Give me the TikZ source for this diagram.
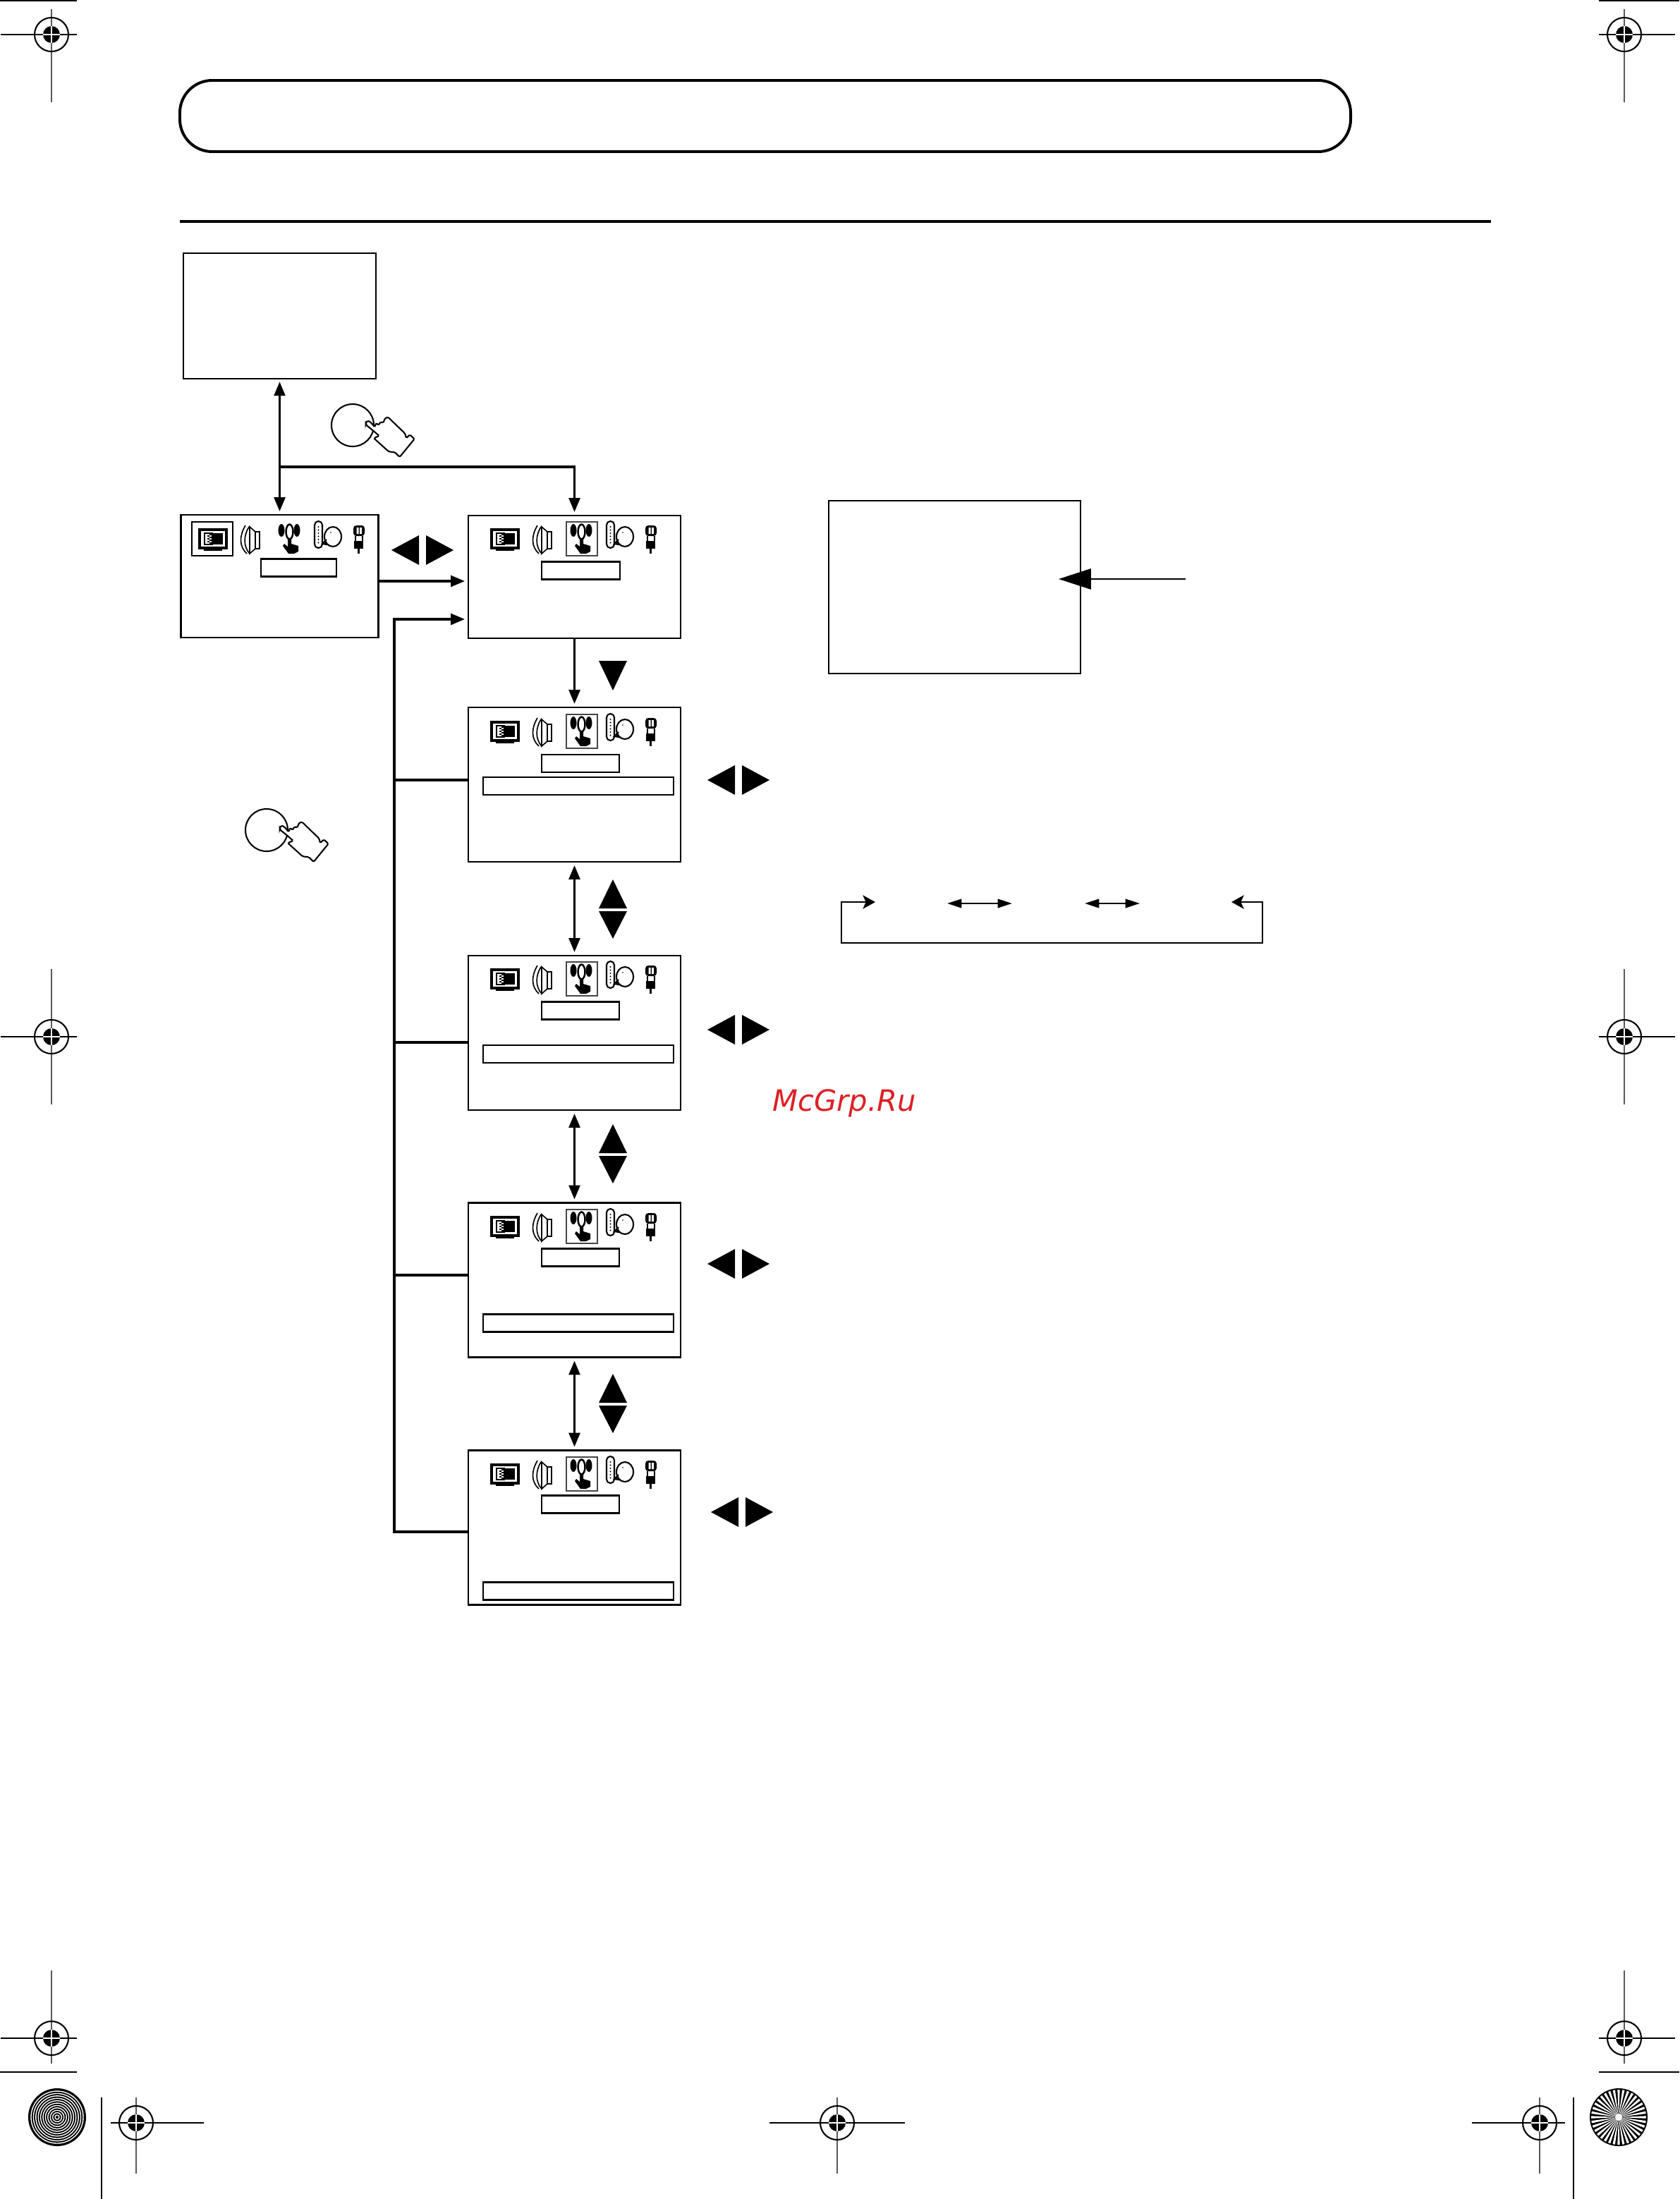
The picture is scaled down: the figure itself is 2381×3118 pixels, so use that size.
\documentclass[tikz,border=0pt]{standalone}
\usepackage{fontspec}
\usetikzlibrary{arrows.meta,positioning}
\newfontfamily\markfont{DejaVu Sans}
\definecolor{markred}{RGB}{222,32,38}
\definecolor{framegray}{RGB}{70,70,70}

% registration cross: x, y, left, right, top, bottom
\newcommand{\regmark}[6]{
  \draw[line width=0.5pt] (#3,#2) -- (#4,#2);
  \draw[line width=0.5pt,black!65] (#1,#5) -- (#1,#6);
  \draw[line width=0.5pt] (#1,#2) circle[radius=24];
  \fill (#1,#2) circle[radius=12];
  \draw[white,line width=0.3pt] (#1-12,#2) -- (#1+12,#2) (#1,#2-12) -- (#1,#2+12);
}

\tikzset{
  screen node/.style={rectangle,draw,inner sep=0pt,line width=0.7pt,minimum width=72.24pt,minimum height=#1},
  screen node/.default=52.56pt,
  field node/.style={rectangle,draw,inner sep=0pt,line width=0.55pt,minimum width=#1,minimum height=6pt},
  flow/.style={line width=0.95pt,shorten >=0.8pt,shorten <=0.8pt},
  wire/.style={line width=0.95pt},
  icon frame/.style={line width=0.55pt,draw=framegray},
  pics/iconrow/.style={code={
    % set-up screen
    \draw[line width=0.8pt,fill=white] (32,21) rectangle (70,47);
    \fill (50,26) rectangle (65,42);
    \draw[line width=0.35pt] (39,26) rectangle (50,42);
    \foreach \yy in {27,31,...,39} {\fill (46,\yy) rectangle (50,\yy+2);}
    \foreach \yy in {29,33,...,41} {\fill (43,\yy) rectangle (46,\yy+2);}
    \fill (38,47) rectangle (64,51);
    % speaker
    \draw[line width=0.4pt,fill=white] (111,24) rectangle (117,48);
    \draw[line width=0.4pt] (111,24) -- (103,17) -- (103,55) -- (111,48);
    \draw[line width=0.4pt] (97,15) .. controls (88,30) and (88,45) .. (99,55);
    \draw[line width=0.4pt] (102,17) .. controls (94,30) and (94,45) .. (103,55);
    % function hand
    \fill (148,22) circle[x radius=4.5,y radius=9];
    \fill (170,22) circle[x radius=4.5,y radius=9];
    \draw[line width=0.6pt] (159.5,24) circle[x radius=5,y radius=10.5];
    \fill (157,34) -- (162,34) -- (162,41) -- (172,44) -- (172,52) -- (166,55)
      -- (158,55) -- (150,44) -- (152,41) -- (157,45) -- cycle;
    % speech
    \draw[line width=0.5pt,rounded corners=1.3pt] (195,9) rectangle (206,47);
    \foreach \yy in {17,21.5,...,40} {\fill (200.5,\yy) circle[radius=1.1];}
    \draw[line width=0.5pt] (221,31) circle[x radius=12,y radius=14];
    \fill (218,25) circle[radius=0.8];
    \draw[line width=0.5pt,fill=white] (206,41) -- (212,42) -- (209,38) -- (212,35) -- cycle;
    % plug
    \fill[rounded corners=1pt] (250,15) rectangle (266,30);
    \fill[white] (254.5,18) rectangle (257.5,27) (259,18) rectangle (262,27);
    \draw[line width=0.4pt] (253,30) -- (253,37) (263,30) -- (263,37);
    \fill (251,37) rectangle (264,48);
    \draw[line width=0.6pt] (257.5,48) -- (257.5,55);
  }},
  pics/lrkeys/.style={code={
    \fill (-44,0) -- (-5,-21) -- (-5,21) -- cycle;
    \fill (44,0) -- (5,-21) -- (5,21) -- cycle;
  }},
  pics/udkeys/.style={code={
    \fill (0,-43) -- (-20,-2) -- (20,-2) -- cycle;
    \fill (0,41) -- (-20,2) -- (20,2) -- cycle;
  }},
  pics/pushbutton/.style={code={
    \draw[line width=0.5pt] (0,0) circle[radius=30];
    \draw[line width=0.5pt,fill=white,rounded corners=0.4pt] (18.7,-3.3) -- (21.3,-6.7) -- (26,-4)
      -- (31.3,2.7) -- (33.3,-3.3) -- (37,0) -- (39.3,-5) -- (43.3,-3.3) -- (46,-10)
      -- (50,-11.7) -- (74.3,11.7) -- (76,18.3) -- (81,13.3) -- (87.7,19.3) -- (66.7,45)
      -- (60,38.3) -- (51,37.3) -- (46,32.7) -- (30,18.3) -- (37.7,15) -- (26,5)
      -- (18.7,-0.7) -- cycle;
  }}
}

\begin{document}
\begin{tikzpicture}[x=0.24pt,y=-0.24pt,
  >={Triangle[length=4.8pt,width=3.7pt]}]
  \useasboundingbox (0,0) rectangle (2381,3118);

  % printer marks
  \regmark{73}{49}{1}{109}{13}{145}
  \regmark{2303}{49}{2267}{2375}{13}{145}
  \regmark{73}{1470}{1}{109}{1374}{1566}
  \regmark{2303}{1470}{2267}{2375}{1374}{1566}
  \regmark{73}{2890}{1}{109}{2794}{2926}
  \regmark{2303}{2890}{2267}{2375}{2794}{2926}
  \regmark{193}{3010}{157}{289}{2974}{3082}
  \regmark{1187}{3010}{1091}{1283}{2974}{3082}
  \regmark{2183}{3010}{2087}{2219}{2974}{3082}
  \draw[line width=0.5pt] (0,1) -- (109,1) (2267,1) -- (2381,1);
  \draw[line width=0.5pt] (0,2938) -- (109,2938) (2267,2938) -- (2381,2938);
  \draw[line width=0.5pt] (144,2974) -- (144,3118) (2231,2974) -- (2231,3118);

  % colour bars
  \fill (81,3002) circle[radius=41];
  \foreach \r in {3,6.4,...,40} {\draw[white,line width=0.33pt] (81,3002) circle[radius=\r];}
  \fill (2295,3002) circle[radius=41];
  \foreach \a in {0,10,...,350} {\fill[white] (2295,3002) -- ++(\a-2.5:39) -- ++(\a+90:3.4) -- cycle;}
  \fill[white] (2295,3002) circle[radius=5];

  % heading
  \draw[line width=0.95pt,rounded corners=11pt] (255,114) rectangle (1915,215);
  \draw[line width=0.95pt] (255,314) -- (2114,314);

  % screens
  \node[rectangle,draw,inner sep=0pt,line width=0.4pt,minimum width=65.5pt,minimum height=42.7pt] (tvscreen) at (396.5,448) {};
  \node[screen node=41.76pt,minimum width=67pt] (main1) at (396.5,817) {};
  \node[screen node=41.76pt] (main2) at (814.5,818) {};
  \foreach \n/\y in {3/1112.5,4/1464.5,5/1815,6/2166} {
    \node[screen node] (screen\n) at (814.5,\y) {};
  }
  \node[rectangle,draw,inner sep=0pt,line width=0.6pt,minimum width=85.7pt,minimum height=58.8pt] (notebox) at (1353.5,832.5) {};

  % fields
  \node[field node=25.7pt] (title1) at (423.5,805) {};
  \node[field node=26.6pt] (title2) at (823.5,809) {};
  \foreach \n/\y/\z in {3/1082.5/1114.5,4/1433/1494.5,5/1783/1876,6/2133/2256} {
    \node[field node=26.4pt] (title\n) at (823,\y) {};
    \node[field node=64.8pt] (field\n) at (820,\z) {};
  }

  % icons
  \pic at (251,730) {iconrow};
  \draw[line width=0.5pt] (272,740) rectangle (330,788);
  \foreach \y in {730,1003,1354,1705,2056} {
    \pic at (665,\y) {iconrow};
    \draw[icon frame] (803,\y+10) rectangle (847,\y+58);
  }

  % connectors
  \coordinate (branch) at (396.5,662);
  \coordinate (busTop) at (559,878);
  \coordinate (busEnd) at (559,2172);
  \coordinate (across) at (537,824);
  \path[flow,<->] (tvscreen) edge (main1);
  \draw[flow,->,shorten <=0pt] (branch) -| (main2.north);
  \draw[wire,->,shorten >=0.8pt] (main1.east |- across) -- (main2.west |- across);
  \draw[wire,->,shorten >=0.8pt] (screen6.west |- busEnd) -- (busEnd) -- (busTop) -- (main2.west |- busTop);
  \foreach \n/\y in {3/1106,4/1478,5/1808} {
    \draw[wire] (screen\n.west |- 0,\y) -- (busEnd |- 0,\y);
  }
  \path[flow,->,shorten <=0pt] (main2) edge (screen3);
  \path[flow,<->]
   (screen3) edge (screen4)
   (screen4) edge (screen5)
   (screen5) edge (screen6);

  \coordinate (noteEnd) at (1681,821);
  \coordinate (noteTip) at (1501,821);
  \draw[line width=0.6pt,-{Triangle[length=11pt,width=7pt]}] (noteEnd) -- (noteTip);

  % mode cycle
  \coordinate (cycleA) at (1241,1279);
  \coordinate (cycleB) at (1193,1337);
  \coordinate (cycleC) at (1790,1337);
  \coordinate (cycleD) at (1746,1279);
  \draw[line width=0.7pt,{Stealth[length=4.2pt,width=4.6pt,inset=1pt]}-{Stealth[length=4.2pt,width=4.6pt,inset=1pt]}]
    (cycleA) -- (cycleA -| cycleB) -- (cycleB) -- (cycleC) -- (cycleD -| cycleC) -- (cycleD);
  \coordinate (pairA) at (1343,1281);
  \coordinate (pairB) at (1435,1281);
  \coordinate (pairC) at (1538,1281);
  \coordinate (pairD) at (1616,1281);
  \draw[line width=0.6pt,{Triangle[length=4.9pt,width=3pt]}-{Triangle[length=4.9pt,width=3pt]}] (pairA) -- (pairB);
  \draw[line width=0.6pt,{Triangle[length=4.9pt,width=3pt]}-{Triangle[length=4.9pt,width=3pt]}] (pairC) -- (pairD);

  % cursor keys
  \pic at (599,780) {lrkeys};
  \pic at (1047,1106) {lrkeys};
  \pic at (1047,1460) {lrkeys};
  \pic at (1047,1792) {lrkeys};
  \pic at (1052,2144) {lrkeys};
  \fill (849,937) -- (889,937) -- (869,979) -- cycle;
  \pic at (869,1290) {udkeys};
  \pic at (869,1637) {udkeys};
  \pic at (869,1991) {udkeys};

  % buttons
  \pic at (500,603) {pushbutton};
  \pic at (378,1177) {pushbutton};

  \node[font=\markfont\itshape\fontsize{10pt}{12pt}\selectfont,text=markred,inner sep=0pt] (watermark) at (1197,1564) {McGrp.Ru};
\end{tikzpicture}
\end{document}
